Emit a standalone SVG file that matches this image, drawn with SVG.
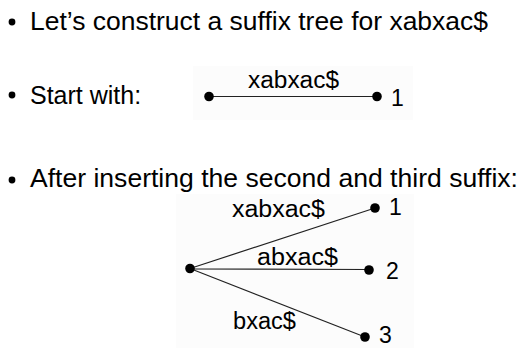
<svg xmlns="http://www.w3.org/2000/svg" width="520" height="348" viewBox="0 0 520 348">
  <style>
    .body { font-family: "Liberation Sans", Arial, sans-serif; font-size: 25px; fill: #000; }
    .lbl { font-family: "Liberation Sans", Arial, sans-serif; font-size: 23px; fill: #000; }
    .edge { stroke: #222; stroke-width: 1.2; fill: none; }
    .node { fill: #000; }
    .panel { fill: #fcfcfc; }
  </style>
  <rect width="520" height="348" fill="#fff"/>

  <!-- bullet points -->
  <g id="bullets">
    <circle cx="12" cy="22" r="3.4" fill="#000"/>
    <text class="body" x="30" y="30" textLength="458" lengthAdjust="spacingAndGlyphs">Let’s construct a suffix tree for xabxac$</text>
    <circle cx="12" cy="95" r="3.4" fill="#000"/>
    <text class="body" x="30" y="104">Start with:</text>
    <circle cx="12" cy="180" r="3.4" fill="#000"/>
    <text class="body" x="30" y="187" textLength="488" lengthAdjust="spacingAndGlyphs">After inserting the second and third suffix:</text>
  </g>

  <!-- panels behind the two trees -->
  <rect class="panel" x="193" y="66" width="220" height="54"/>
  <rect class="panel" x="176" y="194" width="238" height="154"/>

  <!-- connectors -->
  <g id="connectors">
    <line class="edge" x1="209" y1="96.5" x2="377" y2="96.5"/>
    <line class="edge" x1="190" y1="268.5" x2="375" y2="208"/>
    <line class="edge" x1="190" y1="269" x2="369" y2="269.5" stroke-width="1.5"/>
    <line class="edge" x1="190" y1="268.5" x2="365" y2="337"/>
  </g>

  <!-- edge labels -->
  <g id="edge-labels">
    <text class="lbl" x="248" y="88" textLength="91" lengthAdjust="spacingAndGlyphs">xabxac$</text>
    <text class="lbl" x="232" y="217" textLength="93" lengthAdjust="spacingAndGlyphs">xabxac$</text>
    <text class="lbl" x="257" y="265" textLength="81" lengthAdjust="spacingAndGlyphs">abxac$</text>
    <text class="lbl" x="233" y="329" textLength="63" lengthAdjust="spacingAndGlyphs">bxac$</text>
  </g>

  <!-- single-edge tree -->
  <g id="root-a"><circle class="node" cx="209" cy="96.5" r="4.8"/></g>
  <g id="leaf-a1">
    <circle class="node" cx="377" cy="96.5" r="4.8"/>
    <text class="lbl" x="391" y="105.5">1</text>
  </g>

  <!-- three-edge tree -->
  <g id="root-b"><circle class="node" cx="190" cy="268.5" r="4.8"/></g>
  <g id="leaf-b1">
    <circle class="node" cx="375" cy="208" r="4.8"/>
    <text class="lbl" x="389" y="215">1</text>
  </g>
  <g id="leaf-b2">
    <circle class="node" cx="369" cy="270" r="4.8"/>
    <text class="lbl" x="386" y="279">2</text>
  </g>
  <g id="leaf-b3">
    <circle class="node" cx="365" cy="337" r="4.8"/>
    <text class="lbl" x="379" y="343">3</text>
  </g>
</svg>
